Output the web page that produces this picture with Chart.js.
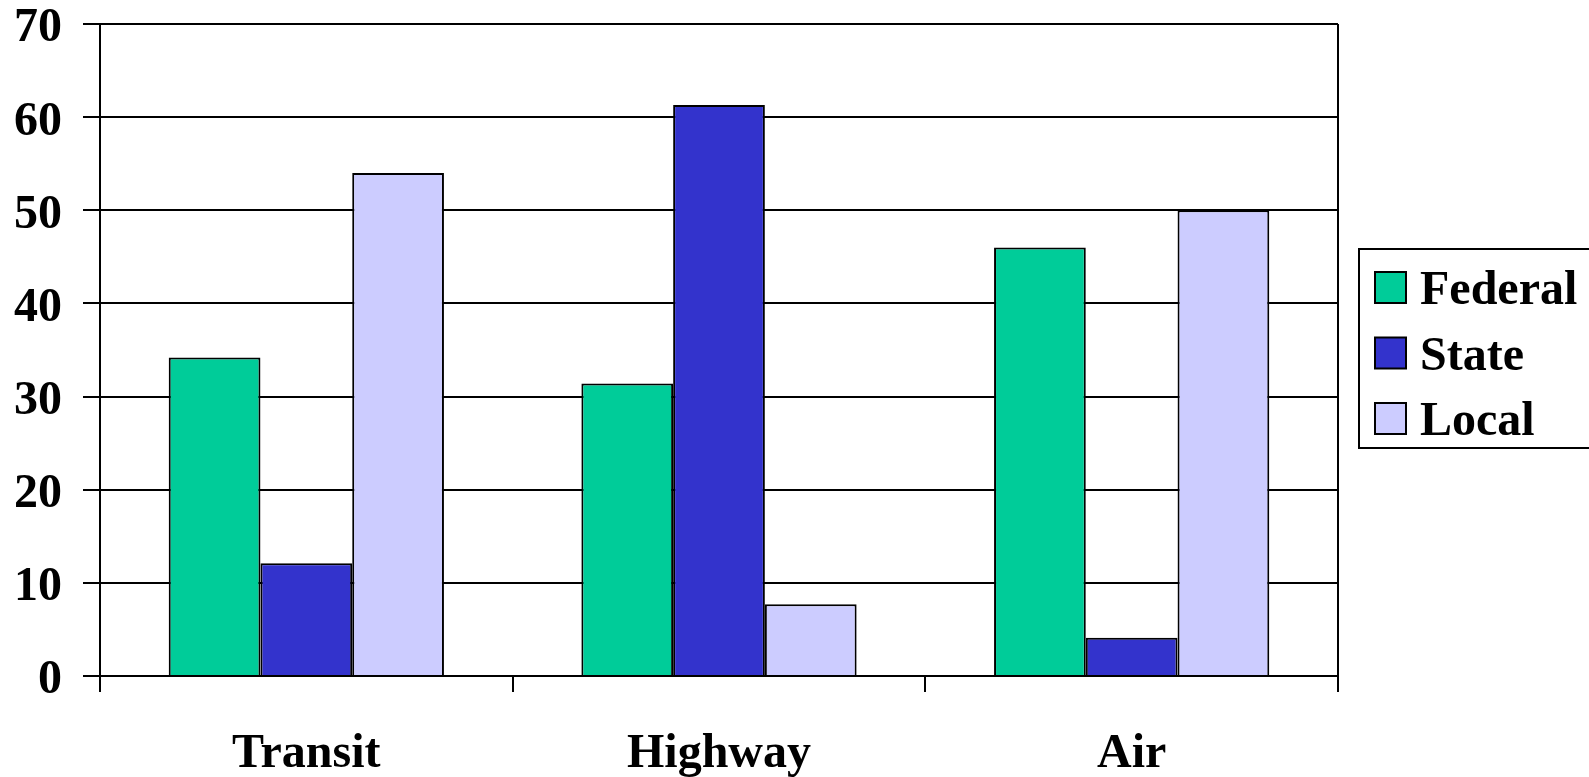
<!DOCTYPE html>
<html>
<head>
<meta charset="utf-8">
<script src="https://cdn.jsdelivr.net/npm/chart.js@4/dist/chart.umd.min.js"></script>
<style>
    html, body { margin: 0; padding: 0; background: #fff; }
    #chart-wrap { width: 1589px; height: 777px; }
</style>
</head>
<body>
<div id="chart-wrap"><canvas id="funding-chart"></canvas></div>
<script>
const categories = ['Transit', 'Highway', 'Air'];
const federal_values = [34.2, 31.4, 46.0];
const state_values = [12.1, 61.3, 4.1];
const local_values = [54.0, 7.7, 50.0];
const y_ticks = [0, 10, 20, 30, 40, 50, 60, 70];

const font_family = '"Liberation Serif", "Times New Roman", serif';

// box legend on the right, drawn like the old office chart
const box_legend_plugin = {
    id: 'boxLegend',
    afterDraw(chart) {
        const ctx = chart.ctx;
        const area = chart.chartArea;

        // right border of the plot
        ctx.save();
        ctx.strokeStyle = '#000';
        ctx.lineWidth = 2;
        ctx.beginPath();
        ctx.moveTo(area.right, area.top);
        ctx.lineTo(area.right, area.bottom + 16);
        ctx.stroke();

        const box_left = 1359;
        const box_top = 249;
        const box_width = 240;
        const box_height = 199;
        ctx.lineWidth = 2;
        ctx.strokeRect(box_left, box_top, box_width, box_height);

        ctx.font = 'bold 48px ' + font_family;
        ctx.textBaseline = 'middle';
        ctx.textAlign = 'left';
        chart.data.datasets.forEach((dataset, index) => {
            const center_y = 287 + index * 65.5;
            ctx.fillStyle = dataset.backgroundColor;
            ctx.fillRect(1375, center_y - 15, 31, 31);
            ctx.strokeStyle = '#000';
            ctx.lineWidth = 2;
            ctx.strokeRect(1375, center_y - 15, 31, 31);
            ctx.fillStyle = '#000';
            ctx.fillText(dataset.label, 1420, center_y + 5);
        });
        ctx.restore();
    }
};

const funding_chart = new Chart(document.getElementById('funding-chart'), {
    type: 'bar',
    data: {
        labels: categories,
        datasets: [
            {
                label: 'Federal',
                data: federal_values,
                backgroundColor: '#00CC99',
                borderColor: '#000',
                borderWidth: 2
            },
            {
                label: 'State',
                data: state_values,
                backgroundColor: '#3333CC',
                borderColor: '#000',
                borderWidth: 2
            },
            {
                label: 'Local',
                data: local_values,
                backgroundColor: '#CCCCFF',
                borderColor: '#000',
                borderWidth: 2
            }
        ]
    },
    options: {
        responsive: true,
        maintainAspectRatio: false,
        animation: false,
        datasets: {
            bar: {
                categoryPercentage: 0.667,
                barPercentage: 1.0
            }
        },
        layout: {
            padding: { top: 0, right: 251, bottom: 0, left: 0 }
        },
        plugins: {
            legend: { display: false },
            tooltip: { enabled: false }
        },
        scales: {
            x: {
                afterFit(scale) {
                    scale.height = 101;
                },
                grid: {
                    offset: true,
                    drawOnChartArea: false,
                    color: '#000',
                    lineWidth: 2,
                    tickLength: 16
                },
                border: { color: '#000', width: 2 },
                ticks: {
                    color: '#000',
                    padding: 34,
                    font: { family: font_family, size: 48, weight: 'bold' }
                }
            },
            y: {
                min: 0,
                max: 70,
                afterFit(scale) {
                    scale.width = 100;
                    scale.paddingTop = 24;
                    scale.paddingBottom = 0;
                },
                afterBuildTicks(scale) {
                    scale.ticks = y_ticks.map(v => ({ value: v }));
                },
                grid: {
                    color: '#000',
                    lineWidth: 2,
                    tickLength: 17
                },
                border: { color: '#000', width: 2 },
                ticks: {
                    color: '#000',
                    padding: 21,
                    labelOffset: 5,
                    font: { family: font_family, size: 48, weight: 'bold' }
                }
            }
        }
    },
    plugins: [box_legend_plugin]
});
</script>
</body>
</html>
